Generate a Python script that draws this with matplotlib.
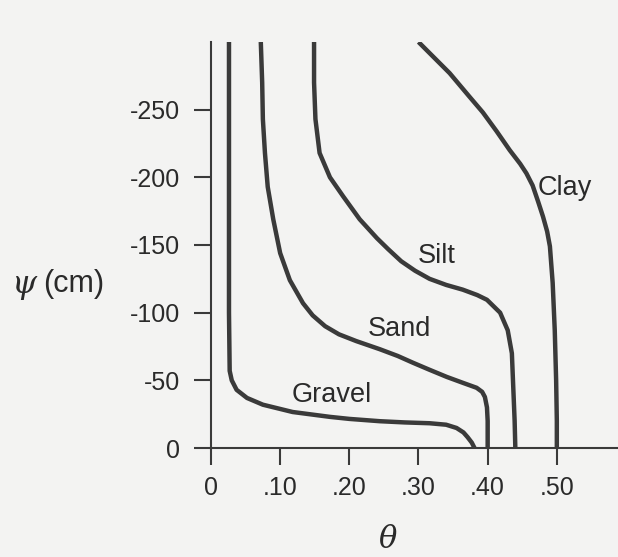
import matplotlib
matplotlib.use("Agg")
import matplotlib.pyplot as plt

# water content (theta) vs pressure head (psi, cm) for four soils
gravel_theta = [0.026, 0.026, 0.027, 0.030, 0.037, 0.052, 0.075, 0.118, 0.172, 0.200, 0.244, 0.280, 0.316, 0.340, 0.355, 0.365, 0.371, 0.377, 0.381]
gravel_psi   = [-300, -100, -57, -50, -43, -37, -32, -26.6, -23, -21.5, -19.8, -18.9, -18.3, -17.2, -14.8, -11.5, -8, -4, 0]

sand_theta = [0.072, 0.074, 0.075, 0.078, 0.082, 0.090, 0.100, 0.114, 0.133, 0.147, 0.165, 0.185, 0.210, 0.244, 0.270, 0.292, 0.315, 0.341, 0.365, 0.384, 0.392, 0.396, 0.399, 0.400, 0.400]
sand_psi   = [-300, -270, -243, -218, -193, -169, -144, -124, -107, -98, -90, -84, -79, -73, -68, -63, -58, -52.5, -48, -44.5, -41.5, -37.7, -30, -20, 0]

silt_theta = [0.149, 0.149, 0.151, 0.157, 0.172, 0.191, 0.215, 0.240, 0.256, 0.275, 0.295, 0.316, 0.340, 0.364, 0.385, 0.399, 0.418, 0.429, 0.435, 0.437, 0.439, 0.440]
silt_psi   = [-300, -270, -243, -218, -200, -186, -169, -155, -147, -138, -131, -125, -120.5, -117, -113, -109.5, -100, -87, -70, -45, -20, 0]

clay_theta = [0.300, 0.345, 0.373, 0.393, 0.413, 0.432, 0.447, 0.456, 0.465, 0.473, 0.480, 0.486, 0.490, 0.494, 0.497, 0.499, 0.500, 0.500]
clay_psi   = [-300, -277, -260, -248, -234, -220, -210, -203, -194, -182, -171, -160, -149, -122, -87, -50, -20, 0]

soil_names = ["Gravel", "Sand", "Silt", "Clay"]
label_theta = [0.117, 0.227, 0.299, 0.4725]
label_psi   = [-34, -83, -137, -187]

x_ticks = [0, 0.10, 0.20, 0.30, 0.40, 0.50]
x_tick_labels = ["0", ".10", ".20", ".30", ".40", ".50"]
y_ticks = [0, -50, -100, -150, -200, -250]
y_tick_labels = ["0", "-50", "-100", "-150", "-200", "-250"]

BG = "#f3f3f2"
INK = "#3a3a3a"

plt.rcParams["font.family"] = ["Liberation Sans", "DejaVu Sans"]

fig = plt.figure(figsize=(6.18, 5.57), dpi=100, facecolor=BG)
ax = fig.add_axes([211 / 618, 109 / 557, 406 / 618, 406 / 557])
ax.set_facecolor(BG)

curves = [(gravel_theta, gravel_psi), (sand_theta, sand_psi),
          (silt_theta, silt_psi), (clay_theta, clay_psi)]
for th, ps in curves:
    ax.plot(th, ps, color=INK, lw=3.2, solid_joinstyle="round",
            solid_capstyle="butt")

for name, tx, ty in zip(soil_names, label_theta, label_psi):
    ax.text(tx, ty, name, fontsize=19.5, color="#2a2a2a",
            ha="left", va="baseline")

ax.set_xlim(0, 0.587)
ax.set_ylim(0, -300)

for side in ["top", "right"]:
    ax.spines[side].set_visible(False)
for side in ["left", "bottom"]:
    ax.spines[side].set_linewidth(1.5)
    ax.spines[side].set_color(INK)

ax.set_xticks(x_ticks)
ax.set_xticklabels(x_tick_labels)
ax.set_yticks(y_ticks)
ax.set_yticklabels(y_tick_labels)
ax.tick_params(direction="out", length=12, width=1.5, color=INK,
               labelsize=18, labelcolor="#2a2a2a")
ax.tick_params(axis="x", pad=8)
ax.tick_params(axis="y", pad=10)

# y axis label: italic psi plus units
fig.text(12 / 618, 1 - 284 / 557, "ψ", family="DejaVu Serif",
         style="italic", fontsize=23, color="#2a2a2a", ha="left", va="center")
fig.text(43 / 618, 1 - 284 / 557, "(cm)", fontsize=22, color="#2a2a2a",
         ha="left", va="center")
fig.text(388 / 618, 1 - 540 / 557, "θ", family="DejaVu Serif",
         style="italic", fontsize=22, color="#2a2a2a", ha="center", va="center")

fig.savefig("out.png", dpi=100, facecolor=BG)
